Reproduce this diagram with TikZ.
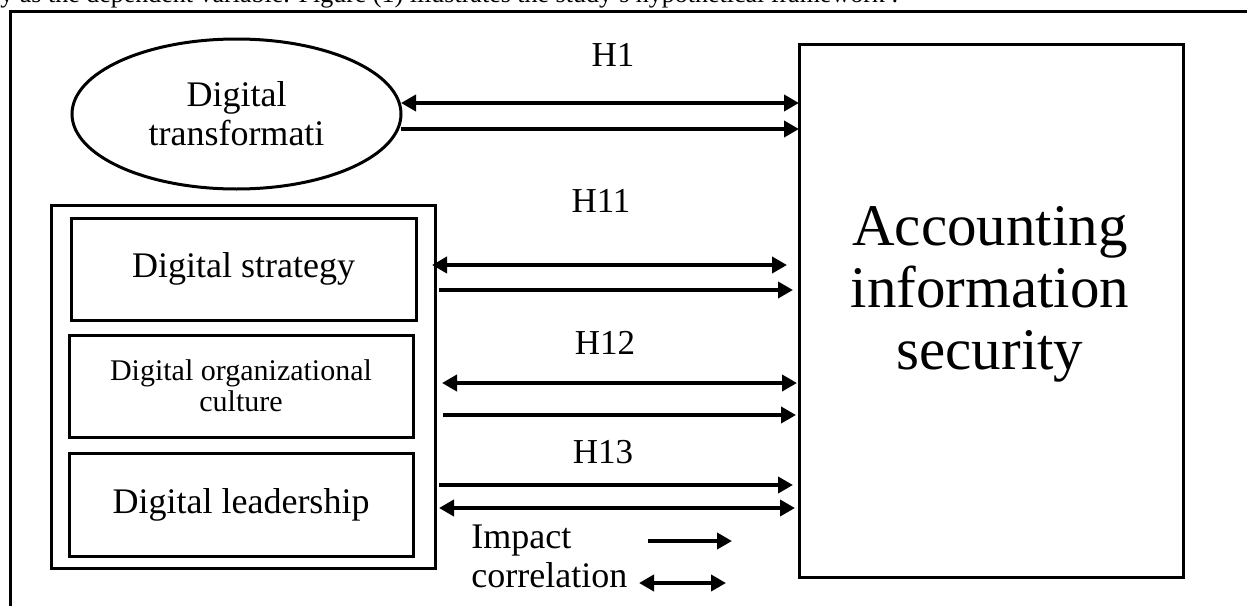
\documentclass[tikz,border=0pt]{standalone}
\usepackage{fontspec}
\setmainfont{Liberation Serif}
\usetikzlibrary{arrows.meta,shapes.geometric}
\begin{document}
\begin{tikzpicture}[x=0.5pt,y=-0.5pt,
  box/.style={draw, line width=1.5pt, rectangle, inner sep=0pt, outer sep=0pt, align=center},
  tip/.style={},
  arr/.style={line width=2pt, -{Triangle[length=7.5pt,width=8pt]}},
  dbl/.style={line width=2pt, {Triangle[length=7.5pt,width=8pt]}-{Triangle[length=7.5pt,width=8pt]}},
  hlab/.style={anchor=base, font=\fontsize{17.5}{20}\selectfont, inner sep=0pt},
  big/.style={font=\fontsize{18}{19.5}\selectfont},
  leg/.style={anchor=base west, inner sep=0pt, font=\fontsize{18}{20}\selectfont},
]
\useasboundingbox (0,0) rectangle (1247,605);
\clip (0,0) rectangle (1247,605);

% cut-off line of text at the top
\node[anchor=base west, inner sep=0pt, font=\fontsize{13}{15}\selectfont] (toptxt) at (0,3)
  {y as the dependent variable. Figure (1) illustrates the study's hypothetical framework :};

% outer frame
\draw[line width=1.5pt] (10,11) rectangle (1300,700);

% nodes
\node[ellipse, draw, line width=1.5pt, inner sep=0pt, outer sep=0pt, align=center,
      minimum width=164.5pt, minimum height=75pt, big] (ell) at (236.5,114)
      {Digital\\transformati};
\node[box, minimum width=192pt, minimum height=181.5pt] (grp) at (243,386.5) {};
\node[box, minimum width=172.5pt, minimum height=51pt, big] (strat) at (243.5,269) {Digital strategy};
\node[box, minimum width=172pt, minimum height=51pt, font=\fontsize{15}{15.5}\selectfont] (cult) at (241,386)
      {Digital organizational\\culture};
\node[box, minimum width=172pt, minimum height=51.5pt, big] (lead) at (241,504.5) {Digital leadership};
\node[box, minimum width=192pt, minimum height=266.5pt] (ais) at (991,310.5) {};
\node[align=center, inner sep=0pt, font=\fontsize{29.5}{31}\selectfont] (aistext) at (990,294)
      {Accounting\\information\\security};

% hypothesis labels
\node[hlab] (h1) at (613,66) {H1};
\node[hlab] (h11) at (601,212) {H11};
\node[hlab] (h12) at (605,354) {H12};
\node[hlab] (h13) at (603,463) {H13};

% connectors
\draw[dbl] (ell.east |- 0,103) -- (ais.west |- 0,103);
\draw[arr] (ell.east |- 0,129) -- (ais.west |- 0,129);
\draw[dbl, shorten <=-1.5pt, shorten >=6pt] (grp.east |- 0,265) -- (ais.west |- 0,265);
\draw[arr, shorten <=2pt, shorten >=3pt] (grp.east |- 0,290) -- (ais.west |- 0,290);
\draw[dbl, shorten <=3.5pt, shorten >=1pt] (grp.east |- 0,383) -- (ais.west |- 0,383);
\draw[arr, shorten <=4pt, shorten >=1.5pt] (grp.east |- 0,415) -- (ais.west |- 0,415);
\draw[arr, shorten <=2pt, shorten >=3pt] (grp.east |- 0,485) -- (ais.west |- 0,485);
\draw[dbl, shorten <=2pt, shorten >=2pt] (grp.east |- 0,508) -- (ais.west |- 0,508);

% legend
\node[leg] (imp) at (471,548) {Impact};
\node[leg] (cor) at (471,587) {correlation};
\coordinate (i1) at (648,541);
\coordinate (i2) at (732,541);
\coordinate (c1) at (639,583);
\coordinate (c2) at (726,583);
\draw[arr] (i1) -- (i2);
\draw[dbl] (c1) -- (c2);
\end{tikzpicture}
\end{document}
